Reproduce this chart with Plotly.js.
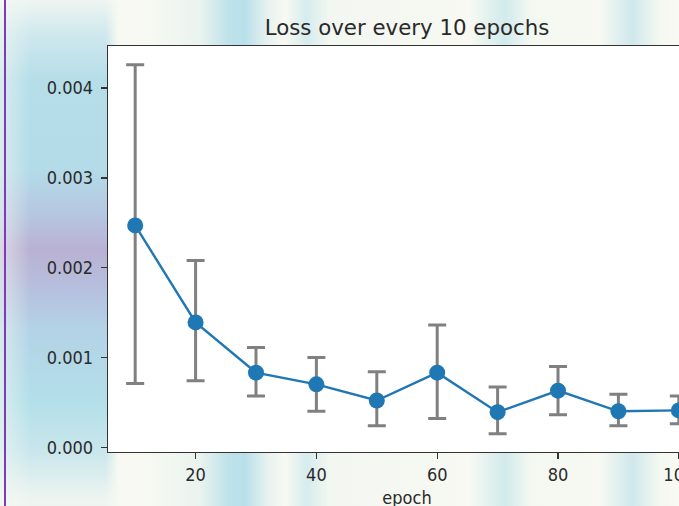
<!DOCTYPE html>
<html>
<head>
<meta charset="utf-8">
<script src="https://cdn.plot.ly/plotly-3.0.1.min.js"></script>
<style>
  html, body { margin:0; padding:0; width:679px; height:506px; overflow:hidden; }
  body {
    background:
      linear-gradient(90deg,
        rgba(248,249,243,0) 0px, rgba(248,249,243,0) 110px,
        #f7f9f2 150px, #eaf3ef 200px, #bfe2ea 228px, #b9e0ea 245px, #e8f2ef 268px,
        #f7f9f2 285px, #d6ecee 307px, #f3f7f1 330px,
        #f7f9f2 470px, #d2eaec 505px, #f3f8f1 530px,
        #f7f9f2 600px, #cfe8ec 632px, #f5f8f1 660px, #f7f9f2 679px),
      #f7f9f2;
  }
  #leftpanel {
    position:absolute; left:0; top:0; width:118px; height:506px;
    background: linear-gradient(180deg,
      #eef5f1 0px, #cfe8ee 35px, #b5dee9 80px, #b3dbe8 170px,
      #b6c6e0 215px, #b9b1d3 250px, #b6c0de 290px, #b3d3e6 330px,
      #b3dfe9 400px, #c8e6ec 450px, #eef5f0 500px);
    -webkit-mask-image: linear-gradient(90deg, rgba(0,0,0,0.45) 0px, rgba(0,0,0,1) 30px, rgba(0,0,0,1) 106px, rgba(0,0,0,0) 118px);
    mask-image: linear-gradient(90deg, rgba(0,0,0,0.45) 0px, rgba(0,0,0,1) 30px, rgba(0,0,0,1) 106px, rgba(0,0,0,0) 118px);
  }
  #purpleline { position:absolute; left:4px; top:0; width:2px; height:506px; background:#7b3cb6; }
  #chart { position:absolute; left:0; top:0; width:740px; height:520px; }
</style>
</head>
<body>
<div id="leftpanel"></div>
<div id="purpleline"></div>
<div id="chart"></div>
<script>
const epochs   = [10, 20, 30, 40, 50, 60, 70, 80, 90, 100];
const lossMean = [0.00247, 0.00139, 0.00083, 0.00070, 0.00052, 0.00083, 0.00039, 0.00063, 0.00040, 0.00041];
const errPlus  = [0.00179, 0.00069, 0.00028, 0.00030, 0.00032, 0.00053, 0.00028, 0.00027, 0.00019, 0.00016];
const errMinus = [0.00176, 0.00065, 0.00026, 0.00030, 0.00028, 0.00051, 0.00024, 0.00027, 0.00016, 0.00015];
const xTicks   = [20, 40, 60, 80, 100];
const yTicks   = [0, 0.001, 0.002, 0.003, 0.004];
const yTickText = ['0.000', '0.001', '0.002', '0.003', '0.004'];

const trace = {
  x: epochs,
  y: lossMean,
  type: 'scatter',
  mode: 'lines+markers',
  line: { color: '#1f77b4', width: 2.4 },
  marker: { color: '#1f77b4', size: 16 },
  error_y: {
    type: 'data', symmetric: false,
    array: errPlus, arrayminus: errMinus,
    color: '#808080', thickness: 3, width: 9
  },
  cliponaxis: false
};

const titleFont = { family: 'DejaVu Sans, sans-serif', color: '#2a2a2a', size: 21.3 };
const tickFont  = { family: 'DejaVu Sans Condensed, DejaVu Sans, sans-serif', color: '#2a2a2a', size: 18 };

const layout = {
  width: 740, height: 520,
  margin: { l: 108, r: 34, t: 46, b: 68 },
  paper_bgcolor: 'rgba(0,0,0,0)',
  plot_bgcolor: '#ffffff',
  showlegend: false,
  title: {
    text: 'Loss over every 10 epochs',
    font: titleFont,
    x: 0.5, xref: 'paper', xanchor: 'center',
    y: 1 - 28 / 520, yref: 'container', yanchor: 'middle'
  },
  xaxis: {
    range: [5.5, 104.5],
    tickvals: xTicks,
    ticks: 'outside', ticklen: 6, tickwidth: 1.3, tickcolor: '#333',
    showline: true, linecolor: '#333', linewidth: 1.3, mirror: true,
    showgrid: false, zeroline: false,
    tickfont: tickFont,
    title: { text: 'epoch', font: tickFont, standoff: 7 }
  },
  yaxis: {
    range: [-0.0000536, 0.0044686],
    tickvals: yTicks, ticktext: yTickText,
    ticks: 'outside', ticklen: 6, tickwidth: 1.3, tickcolor: '#333',
    showline: true, linecolor: '#333', linewidth: 1.3, mirror: true,
    showgrid: false, zeroline: false,
    ticklabelstandoff: 4,
    tickfont: tickFont
  }
};

Plotly.newPlot('chart', [trace], layout, { displayModeBar: false, staticPlot: true });
</script>
</body>
</html>
